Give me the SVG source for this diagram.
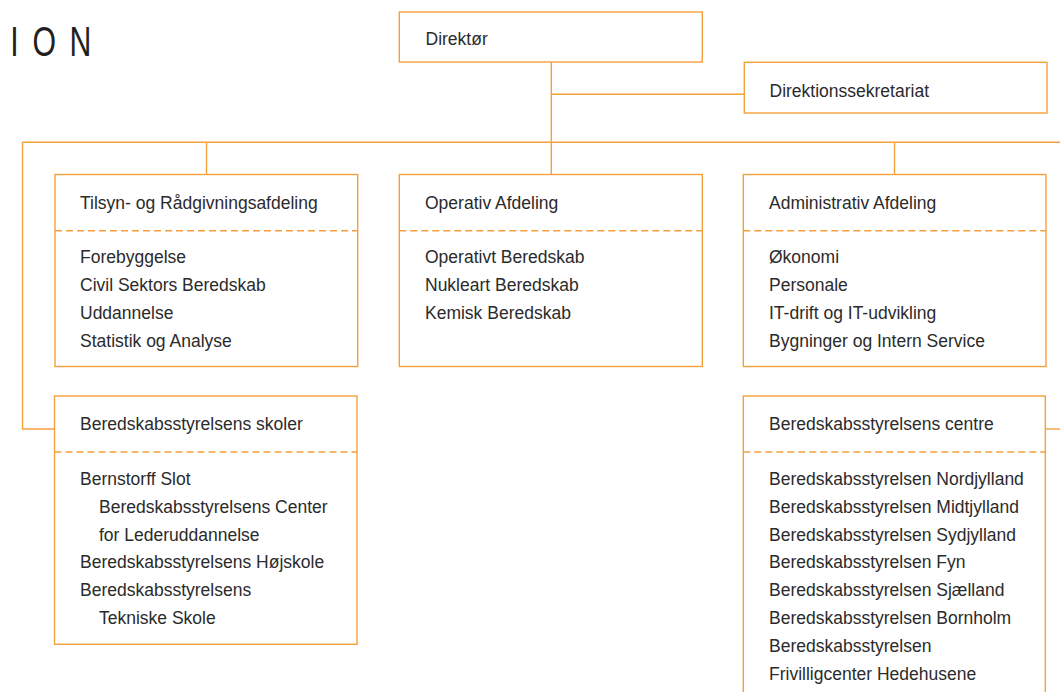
<svg xmlns="http://www.w3.org/2000/svg" width="1060" height="692" viewBox="0 0 1060 692">
<style>
.box{fill:#fff;stroke:#f6a03c;stroke-width:1.4}
.dash{stroke:#f6a03c;stroke-width:1.4;stroke-dasharray:7 4;fill:none}
.con{stroke:#f6a03c;stroke-width:1.4;fill:none}
text{font-family:"Liberation Sans",Arial,sans-serif;font-size:17.5px;fill:#2b2b2b}
.title{font-size:42px;fill:#231f20}
</style>
<rect width="1060" height="692" fill="#fff"/>
<text class="title" transform="scale(0.72,1)" x="14.2 45 96.7" y="56">ION</text>
<g id="connectors">
<path class="con" d="M551.3 62V174.5"/>
<path class="con" d="M551.3 94.3H744.3"/>
<path class="con" d="M22.5 142.3H1060"/>
<path class="con" d="M206.5 142.3V174.5"/>
<path class="con" d="M894.5 142.3V174.5"/>
<path class="con" d="M22.5 142.3V429H54.5"/>
<path class="con" d="M1046 429H1060"/>
</g>
<g id="direktor">
<rect class="box" x="399.3" y="12" width="303" height="50"/>
<text x="425.5" y="45">Direktør</text>
</g>
<g id="direktionssekretariat">
<rect class="box" x="744.3" y="62.3" width="302.7" height="50.7"/>
<text x="769.5" y="97">Direktionssekretariat</text>
</g>
<g id="tilsyn">
<rect class="box" x="55" y="174.5" width="302.7" height="192"/>
<path class="dash" d="M55 230.7H357.7"/>
<text x="80" y="209">Tilsyn- og Rådgivningsafdeling</text>
<text x="80" y="263">Forebyggelse</text>
<text x="80" y="291">Civil Sektors Beredskab</text>
<text x="80" y="319">Uddannelse</text>
<text x="80" y="347">Statistik og Analyse</text>
</g>
<g id="operativ">
<rect class="box" x="399.3" y="174.5" width="303" height="192"/>
<path class="dash" d="M399.3 230.7H702.3"/>
<text x="425" y="209">Operativ Afdeling</text>
<text x="425" y="263">Operativt Beredskab</text>
<text x="425" y="291">Nukleart Beredskab</text>
<text x="425" y="319">Kemisk Beredskab</text>
</g>
<g id="administrativ">
<rect class="box" x="743.3" y="174.5" width="302.7" height="192"/>
<path class="dash" d="M743.3 230.7H1046"/>
<text x="769" y="209">Administrativ Afdeling</text>
<text x="769" y="263">Økonomi</text>
<text x="769" y="291">Personale</text>
<text x="769" y="319">IT-drift og IT-udvikling</text>
<text x="769" y="347">Bygninger og Intern Service</text>
</g>
<g id="skoler">
<rect class="box" x="54.5" y="396" width="302.5" height="248.3"/>
<path class="dash" d="M54.5 452H357"/>
<text x="80" y="430">Beredskabsstyrelsens skoler</text>
<text x="80" y="485">Bernstorff Slot</text>
<text x="99" y="513">Beredskabsstyrelsens Center</text>
<text x="99" y="541">for Lederuddannelse</text>
<text x="80" y="568">Beredskabsstyrelsens Højskole</text>
<text x="80" y="596">Beredskabsstyrelsens</text>
<text x="99" y="624">Tekniske Skole</text>
</g>
<g id="centre">
<rect class="box" x="743.3" y="396" width="302" height="310"/>
<path class="dash" d="M743.3 452H1045.3"/>
<text x="769" y="430">Beredskabsstyrelsens centre</text>
<text x="769" y="485">Beredskabsstyrelsen Nordjylland</text>
<text x="769" y="513">Beredskabsstyrelsen Midtjylland</text>
<text x="769" y="541">Beredskabsstyrelsen Sydjylland</text>
<text x="769" y="568">Beredskabsstyrelsen Fyn</text>
<text x="769" y="596">Beredskabsstyrelsen Sjælland</text>
<text x="769" y="624">Beredskabsstyrelsen Bornholm</text>
<text x="769" y="652">Beredskabsstyrelsen</text>
<text x="769" y="680">Frivilligcenter Hedehusene</text>
</g>
</svg>
